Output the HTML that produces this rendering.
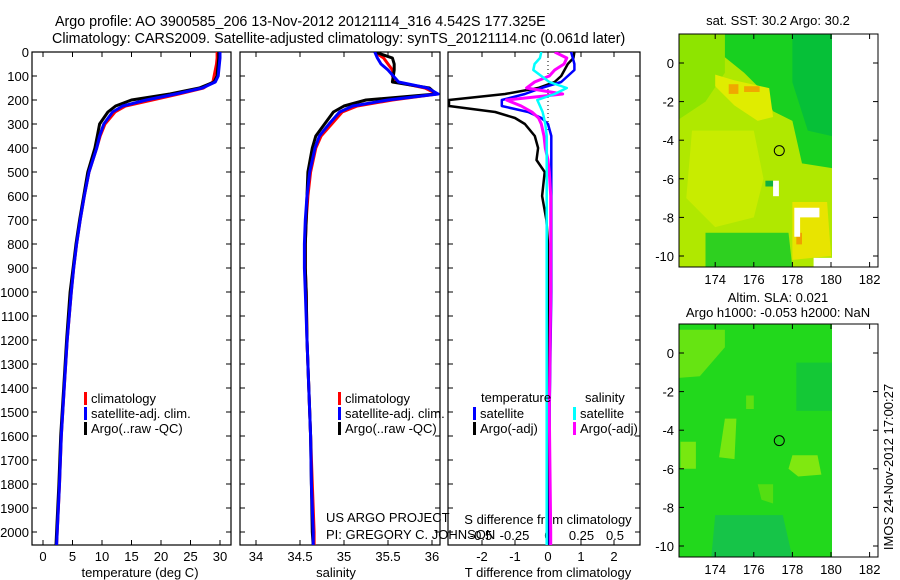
<!DOCTYPE html>
<html><head><meta charset="utf-8"><style>
body{margin:0;background:#fff;}
svg{display:block;font-family:"Liberation Sans",sans-serif;}
</style></head><body>
<svg id="fig" width="900" height="580" viewBox="0 0 900 580" xmlns="http://www.w3.org/2000/svg">
<defs>
<clipPath id="c1"><rect x="32" y="52" width="199" height="493"/></clipPath>
<clipPath id="c2"><rect x="240" y="52" width="200" height="493"/></clipPath>
<clipPath id="c3"><rect x="448" y="52" width="192" height="493"/></clipPath>
<clipPath id="cm1"><rect x="679" y="34" width="153" height="233"/></clipPath>
<clipPath id="cm2"><rect x="679" y="324" width="153" height="233"/></clipPath>
</defs>
<text x="55" y="26" font-size="14.3">Argo profile: AO 3900585_206 13-Nov-2012 20121114_316 4.542S 177.325E</text>
<text x="52" y="43" font-size="14.3">Climatology: CARS2009. Satellite-adjusted climatology: synTS_20121114.nc (0.061d later)</text>
<g id="g1"></g>
<g id="g2"></g>
<g id="g3"></g>
<g id="m1"></g>
<g id="m2"></g>
</svg>
<script>
const depths=[0,25,50,75,100,125,150,175,200,225,250,300,350,400,500,600,700,800,900,1000,1200,1400,1600,1800,2000,2055];
const tArgo=[29.8,29.8,29.7,29.6,29.5,29.0,26.5,21.5,15,12.3,11.0,9.6,9.2,8.8,7.6,6.9,6.2,5.6,5.1,4.6,4.0,3.5,3.0,2.7,2.3,2.2];
const tSat=[30.0,30.0,29.9,29.8,29.7,29.2,27,22.5,17.5,13.5,11.8,10.3,9.6,9.1,7.8,7.0,6.3,5.7,5.2,4.8,4.1,3.6,3.1,2.8,2.4,2.3];
const tClim=[29.5,29.5,29.4,29.2,29.0,28.8,27.2,23,18.5,14,12.2,10.5,9.7,9.1,7.8,7.0,6.3,5.7,5.2,4.8,4.1,3.6,3.1,2.8,2.4,2.3];
const sArgo=[35.35,35.55,35.57,35.57,35.56,35.55,35.97,36.05,35.25,35.0,34.88,34.78,34.68,34.64,34.59,34.58,34.57,34.56,34.56,34.57,34.58,34.6,34.62,34.63,34.64,34.65];
const sSat=[35.35,35.38,35.42,35.5,35.56,35.62,35.95,36.07,35.5,35.1,34.95,34.83,34.72,34.67,34.61,34.58,34.56,34.55,34.55,34.56,34.58,34.6,34.62,34.63,34.65,34.65];
const sClim=[35.35,35.45,35.5,35.55,35.55,35.6,35.92,36.06,35.55,35.15,34.98,34.86,34.74,34.68,34.62,34.59,34.57,34.56,34.56,34.57,34.58,34.6,34.62,34.64,34.66,34.66];
const dDepth=[0,25,50,75,100,125,150,175,200,225,250,275,300,350,400,450,500,600,700,800,1000,1500,2000,2055];
const dTArgo=[0.8,0.77,0.6,0.5,0.4,0.2,-0.3,-1.3,-3,-3,-1.6,-1.0,-0.7,-0.4,-0.3,-0.35,-0.1,-0.18,-0.05,0,0,0,0,0];
const dTSat=[0.7,0.75,0.8,0.8,0.6,0.4,-0.2,-0.7,-1.4,-1.4,-0.6,-0.2,0,0.1,0.1,0.1,0.1,0.1,0.1,0.1,0.1,0.05,0.05,0.05];
const dSArgo=[0.05,0.14,0.12,0.05,0.01,-0.1,-0.16,0.11,-0.31,-0.2,-0.12,-0.07,-0.05,-0.03,-0.02,0,0.01,0.02,0.02,0.02,0.02,0.01,0.02,0.02];
const dSSat=[-0.05,-0.06,-0.1,-0.11,-0.05,0.01,0.14,0.05,-0.08,-0.06,-0.04,-0.03,-0.02,-0.01,-0.01,-0.01,-0.01,-0.01,-0.01,-0.01,-0.01,-0.01,-0.01,-0.01];
const depthTicks=[0,100,200,300,400,500,600,700,800,900,1000,1100,1200,1300,1400,1500,1600,1700,1800,1900,2000];
const tTicks=[0,5,10,15,20,25,30];
const sTicks=[34,34.5,35,35.5,36];
const dtTicks=[-2,-1,0,1,2];
const dsTicks=[-0.5,-0.25,0,0.25,0.5];
const lonTicks=[174,176,178,180,182];
const latTicks=[0,-2,-4,-6,-8,-10];

const NS='http://www.w3.org/2000/svg';
function mk(p,tag,at,txt){const e=document.createElementNS(NS,tag);for(const k in at)e.setAttribute(k,at[k]);if(txt!==undefined)e.textContent=txt;p.appendChild(e);return e;}
const yD=d=>52+d*0.24;
const xT=t=>43+t*5.9;
const xS=s=>256+(s-34)*88;
const xDT=v=>548+v*33;
const xDS=v=>548+v*134;

function frame(g,x0,x1,labels){
  const r=mk(g,'rect',{x:x0,y:52,width:x1-x0,height:493,fill:'none',stroke:'#000','stroke-width':1.2});
  
  
  depthTicks.forEach(d=>{
    mk(g,'line',{x1:x0,x2:x0+5,y1:yD(d),y2:yD(d),stroke:'#000'});
    mk(g,'line',{x1:x1,x2:x1-5,y1:yD(d),y2:yD(d),stroke:'#000'});
    if(labels){const t=mk(g,'text',{x:x0-3,y:yD(d)+5,'font-size':13,'text-anchor':'end'},String(d));
      
      }
  });
}
function xticks(g,ticks,fx,y){
  ticks.forEach(v=>{const x=fx(v);
    mk(g,'line',{x1:x,x2:x,y1:545,y2:540,stroke:'#000'});
    mk(g,'line',{x1:x,x2:x,y1:52,y2:57,stroke:'#000'});
    const t=mk(g,'text',{x:x,y:y,'font-size':13,'text-anchor':'middle'},String(v));
    
    
  });
}
function line(g,xs,ds,fx,col,w,clip,name){
  const pts=xs.map((v,i)=>fx(v).toFixed(1)+','+yD(ds[i]).toFixed(1)).join(' ');
  const p=mk(g,'polyline',{points:pts,fill:'none',stroke:col,'stroke-width':w,'clip-path':'url(#'+clip+')','stroke-linejoin':'round'});
  
  
}
function legend(g,x,y,col,txt,name){
  mk(g,'rect',{x:x,y:y-11,width:3,height:13,fill:col});
  const t=mk(g,'text',{x:x+7,y:y,'font-size':13},txt);
  
  
}

const g1=document.getElementById('g1');
frame(g1,32,231,true);
xticks(g1,tTicks,xT,561);
line(g1,tClim,depths,xT,'#f00',3,'c1','climatology-temperature-line');
line(g1,tArgo,depths,xT,'#000',3,'c1','argo-temperature-line');
line(g1,tSat,depths,xT,'#00f',3,'c1','satellite-temperature-line');
mk(g1,'text',{x:140,y:577,'font-size':13,'text-anchor':'middle'},'temperature (deg C)');
legend(g1,84,403,'#f00','climatology','legend-climatology');
legend(g1,84,418,'#00f','satellite-adj. clim.','legend-satellite');
legend(g1,84,433,'#000','Argo(..raw -QC)','legend-argo');

const g2=document.getElementById('g2');
frame(g2,240,440,false);
xticks(g2,sTicks,xS,561);
line(g2,sClim,depths,xS,'#f00',3,'c2','climatology-salinity-line');
line(g2,sArgo,depths,xS,'#000',3,'c2','argo-salinity-line');
line(g2,sSat,depths,xS,'#00f',3,'c2','satellite-salinity-line');
mk(g2,'text',{x:336,y:577,'font-size':13,'text-anchor':'middle'},'salinity');
legend(g2,338,403,'#f00','climatology','legend-climatology-2');
legend(g2,338,418,'#00f','satellite-adj. clim.','legend-satellite-2');
legend(g2,338,433,'#000','Argo(..raw -QC)','legend-argo-2');
mk(g2,'text',{x:326,y:522,'font-size':13},'US ARGO PROJECT');
mk(g2,'text',{x:326,y:539,'font-size':13},'PI: GREGORY C. JOHNSON');

const g3=document.getElementById('g3');
frame(g3,448,640,false);
xticks(g3,dtTicks,xDT,561);
dsTicks.forEach(v=>{const t=mk(g3,'text',{x:xDS(v),y:540,'font-size':13,'text-anchor':'middle'},String(v));
  
  });
mk(g3,'text',{x:548,y:524,'font-size':13,'text-anchor':'middle'},'S difference from climatology');
mk(g3,'text',{x:548,y:577,'font-size':13,'text-anchor':'middle'},'T difference from climatology');
mk(g3,'line',{x1:548,x2:548,y1:53,y2:yD(330),stroke:'#000','stroke-dasharray':'1,3'});
line(g3,dTArgo,dDepth,xDT,'#000',2.5,'c3','argo-t-difference-line');
line(g3,dTSat,dDepth,xDT,'#00f',2.5,'c3','satellite-t-difference-line');
line(g3,dSArgo,dDepth,xDS,'#f0f',3,'c3','argo-s-difference-line');
line(g3,dSSat,dDepth,xDS,'#0ff',2.5,'c3','satellite-s-difference-line');
mk(g3,'text',{x:481,y:402,'font-size':13},'temperature');
mk(g3,'text',{x:585,y:402,'font-size':13},'salinity');
legend(g3,473,418,'#00f','satellite','legend-t-satellite');
legend(g3,473,433,'#000','Argo(-adj)','legend-t-argo');
legend(g3,573,418,'#0ff','satellite','legend-s-satellite');
legend(g3,573,433,'#f0f','Argo(-adj)','legend-s-argo');

function mapAxes(g,top){
  const X=lon=>831+(lon-180)*19.3, Y=lat=>top+29+(-lat)*19.3;
  return {X,Y,finish(){
    mk(g,'rect',{x:679,y:top,width:199,height:233,fill:'none',stroke:'#000'});
    lonTicks.forEach(l=>{mk(g,'line',{x1:X(l),x2:X(l),y1:top+233,y2:top+228,stroke:'#000'});mk(g,'line',{x1:X(l),x2:X(l),y1:top,y2:top+5,stroke:'#000'});
      mk(g,'text',{x:X(l),y:top+250,'font-size':13,'text-anchor':'middle'},String(l));});
    latTicks.forEach(l=>{mk(g,'line',{x1:679,x2:684,y1:Y(l),y2:Y(l),stroke:'#000'});mk(g,'line',{x1:878,x2:873,y1:Y(l),y2:Y(l),stroke:'#000'});
      mk(g,'text',{x:674,y:Y(l)+5,'font-size':13,'text-anchor':'end'},String(l));});
    mk(g,'circle',{cx:X(177.32),cy:Y(-4.54),r:5,fill:'none',stroke:'#000'});
  }};
}
function poly(g,A,pts,fill,clip){mk(g,'polygon',{points:pts.map(p=>A.X(p[0]).toFixed(1)+','+A.Y(p[1]).toFixed(1)).join(' '),fill:fill,'clip-path':'url(#'+clip+')'});}

const m1=document.getElementById('m1');
const A1=mapAxes(m1,34);
mk(m1,'text',{x:778,y:25,'font-size':13,'text-anchor':'middle'},'sat. SST: 30.2 Argo: 30.2');
mk(m1,'rect',{x:679,y:34,width:153,height:233,fill:'#b0e800'});
poly(m1,A1,[[172,1.6],[174.5,1.6],[174.5,-0.5],[173.5,-2],[172,-3]],'#8ee400','cm1');
poly(m1,A1,[[174.5,1.6],[181,1.6],[181,-5.6],[178.5,-5.2],[178,-3],[177,-2.5],[176.5,-1.5],[175.5,-0.5],[174.5,0.3]],'#18d020','cm1');
poly(m1,A1,[[178,1.6],[181,1.6],[181,-4],[178.8,-3.5],[178,-1]],'#06c038','cm1');
poly(m1,A1,[[174,-0.6],[175,-0.9],[176.8,-1.3],[177,-2.8],[176.2,-3],[175,-2.2],[174,-1.2]],'#e0ec00','cm1');
poly(m1,A1,[[174.7,-1.1],[175.2,-1.1],[175.2,-1.6],[174.7,-1.6]],'#f0a800','cm1');
poly(m1,A1,[[175.5,-1.2],[176.3,-1.2],[176.3,-1.5],[175.5,-1.5]],'#f0a800','cm1');
poly(m1,A1,[[172.8,-3.5],[176,-3.5],[176.5,-6],[176,-8],[174,-8.5],[172.5,-7]],'#c8ec00','cm1');
poly(m1,A1,[[173.5,-8.8],[177.8,-8.8],[178,-10.6],[173.5,-10.6]],'#2ed020','cm1');
poly(m1,A1,[[178,-7.2],[179.8,-7.2],[180,-10],[178,-10.2]],'#e8e400','cm1');
poly(m1,A1,[[178.2,-8.8],[178.5,-8.8],[178.5,-9.4],[178.2,-9.4]],'#f0a000','cm1');
poly(m1,A1,[[176.6,-6.1],[177,-6.1],[177,-6.4],[176.6,-6.4]],'#10b040','cm1');
poly(m1,A1,[[177,-6.1],[177.3,-6.1],[177.3,-6.9],[177,-6.9]],'#ffffff','cm1');
poly(m1,A1,[[178.1,-7.5],[179.4,-7.5],[179.4,-8],[178.4,-8],[178.4,-9],[178.1,-9]],'#ffffff','cm1');
poly(m1,A1,[[179.1,-10.1],[180.1,-10.1],[180.1,-10.6],[179.1,-10.6]],'#ffffff','cm1');
A1.finish();

const m2=document.getElementById('m2');
const A2=mapAxes(m2,324);
mk(m2,'text',{x:778,y:302,'font-size':13,'text-anchor':'middle'},'Altim. SLA: 0.021');
mk(m2,'text',{x:778,y:317,'font-size':13,'text-anchor':'middle'},'Argo h1000: -0.053 h2000: NaN');
mk(m2,'rect',{x:679,y:324,width:153,height:233,fill:'#22d81c'});
poly(m2,A2,[[172,1.2],[173,1.2],[174.5,1.2],[174.5,0.3],[173.2,-1.2],[172,-1.3]],'#66e412','cm2');
poly(m2,A2,[[172.2,-4.6],[173,-4.6],[173,-6],[172.2,-6]],'#78e810','cm2');
poly(m2,A2,[[174.5,-3.4],[175.1,-3.4],[175,-5.5],[174.2,-5.4]],'#78e810','cm2');
poly(m2,A2,[[175.6,-2.2],[176,-2.2],[176,-2.9],[175.6,-2.9]],'#60e010','cm2');
poly(m2,A2,[[178,-5.3],[179.3,-5.3],[179.5,-6.3],[178.3,-6.4],[177.8,-6]],'#80e810','cm2');
poly(m2,A2,[[176.2,-6.8],[177,-6.8],[177,-7.8],[176.4,-7.6]],'#54de12','cm2');
poly(m2,A2,[[174,-8.4],[177.5,-8.4],[178,-10.6],[173.8,-10.6]],'#16c448','cm2');
poly(m2,A2,[[178.2,-0.5],[180.2,-0.5],[180.2,-3],[178.2,-3]],'#14c836','cm2');
A2.finish();
const st=mk(document.getElementById('fig'),'text',{x:0,y:0,'font-size':13,'text-anchor':'middle',transform:'translate(893,467) rotate(-90)'},'IMOS 24-Nov-2012 17:00:27');


</script>
</body></html>
